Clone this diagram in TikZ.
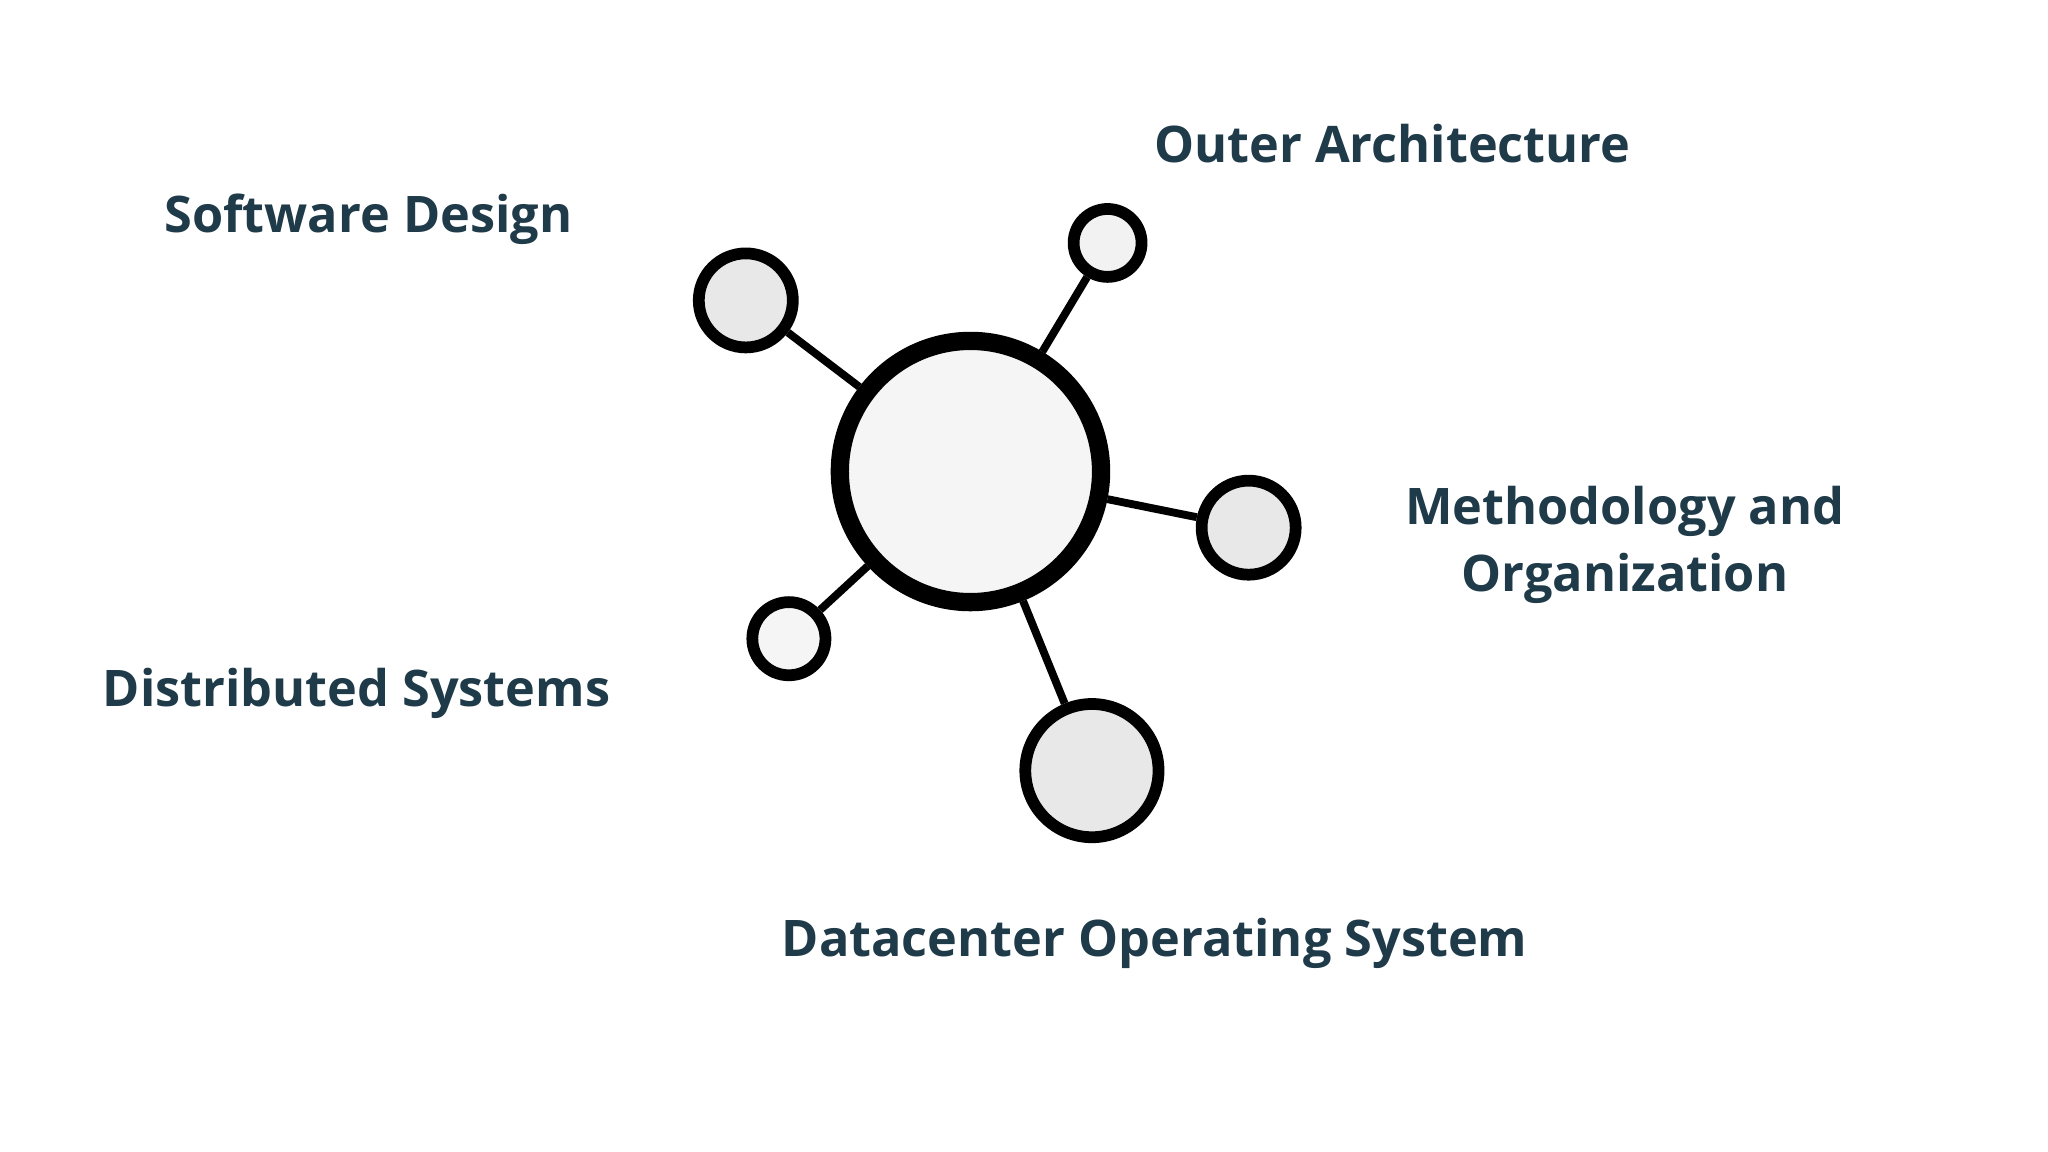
\documentclass[tikz,border=0pt]{standalone}
\usepackage{fontspec}
\setmainfont{Open Sans}
\definecolor{txt}{HTML}{1F3A48}
\begin{document}
\begin{tikzpicture}[x=0.5pt,y=-0.5pt,
  lbl/.style={font=\bfseries\fontsize{19.3}{25.5}\selectfont,text=txt,align=center},
  hub/.style={circle,draw=black,line width=7pt,fill=gray!8,inner sep=0pt},
  sat/.style={circle,draw=black,line width=4.5pt,fill=gray!18,inner sep=0pt},
  spoke/.style={line width=3pt,draw=black}]
\useasboundingbox[fill=white] (0,0) rectangle (1568,882);
\node[hub,minimum size=100pt] (c) at (743,361) {};
\node[sat,minimum size=36pt] (a) at (571,230) {};
\node[sat,minimum size=26pt,fill=gray!10] (b) at (848,186) {};
\node[sat,minimum size=36pt] (r) at (956,404) {};
\node[sat,minimum size=28pt,fill=gray!8] (l) at (604,489) {};
\node[sat,minimum size=51pt] (d) at (836,590) {};
\foreach \s in {a,b,r,l,d}{\draw[spoke] (c) -- (\s);}
\node[lbl] (t1) at (282,168) {Software Design};
\node[lbl] (t2) at (1066,110) {Outer Architecture};
\node[lbl] (t3) at (1244,417) {Methodology and\\Organization};
\node[lbl] (t4) at (273,531) {Distributed Systems};
\node[lbl] (t5) at (884,722) {Datacenter Operating System};
\end{tikzpicture}
\end{document}
